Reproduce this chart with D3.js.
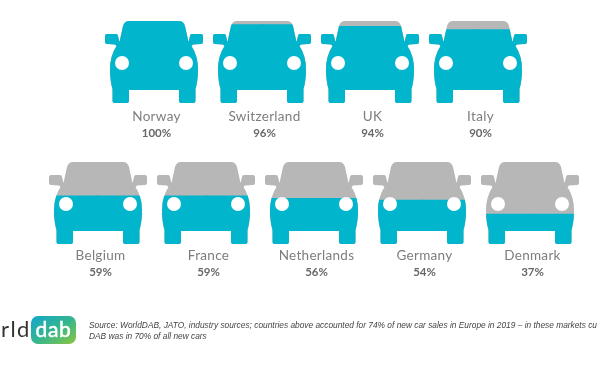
<!DOCTYPE html>
<html>
<head>
<meta charset="utf-8">
<script src="https://cdn.jsdelivr.net/npm/d3@7"></script>
<style>
html, body { margin: 0; padding: 0; background: #fff; overflow: hidden; }
svg { display: block; filter: blur(0.35px); }
</style>
</head>
<body>
<svg></svg>
<script>
// The data
const topCountries = ["Norway", "Switzerland", "UK", "Italy"];
const topValues = [100, 96, 94, 90];
const bottomCountries = ["Belgium", "France", "Netherlands", "Germany", "Denmark"];
const bottomValues = [59, 59, 56, 54, 37];
const sourceLines = [
    "Source: WorldDAB, JATO, industry sources; countries above accounted for 74% of new car sales in Europe in 2019 \u2013 in these markets cu",
    "DAB was in 70% of all new cars"
];

const width = 600;
const height = 372;
const carHeight = 82;

const svg = d3.select("svg").attr("width", width).attr("height", height);
const defs = svg.append("defs");

// one scale per row, value -> level of the fill inside the car
const xTop = d3.scalePoint().domain(topCountries).range([154, 478]);
const xBottom = d3.scalePoint().domain(bottomCountries).range([98, 530]);
const level = d3.scaleLinear().domain([0, 100]).range([carHeight, 0]);

// car icon: right half only, x = 0 is the middle and y = 0 the roof. The left half is the same path flipped
const halfCar = "M-1,0 L25,0 Q29.5,0 31,5 L34.5,21 L36,15 Q36,13 38,13 L47,13 Q49,13 49,15 L49,21 Q49,23 47,23 "
    + "L39,23.5 L37.5,25 Q44,35 44,48 Q44,60 41.5,68 L41.5,80 Q41.5,82 39.5,82 L27,82 Q25,82 25,80 L25,69 L-1,69 Z";
const lights = [-32, 32];

function drawRow(names, values, x, top, nameY, valueY) {
    const rows = names.map((name, i) => ({ name, value: values[i], id: "fill-" + i + "-" + top }));

    defs.selectAll(null)
        .data(rows)
        .join("clipPath")
            .attr("id", d => d.id)
        .append("rect")
            .attr("x", -60)
            .attr("y", d => level(d.value))
            .attr("width", 120)
            .attr("height", d => carHeight - level(d.value));

    const car = svg.append("g")
        .selectAll("g")
        .data(rows)
        .join("g")
            .attr("transform", d => `translate(${x(d.name)},${top})`);

    [1, -1].forEach(flip => {
        car.append("path").attr("d", halfCar).attr("fill", "#b7b7b7")
            .attr("transform", `scale(${flip},1)`);
    });
    const filled = car.append("g").attr("clip-path", d => `url(#${d.id})`);
    [1, -1].forEach(flip => {
        filled.append("path").attr("d", halfCar).attr("fill", "#00b5cc")
            .attr("transform", `scale(${flip},1)`);
    });

    car.selectAll("circle")
        .data(lights)
        .join("circle")
            .attr("cx", d => d)
            .attr("cy", 42)
            .attr("r", 7)
            .attr("fill", "#fff");

    // labels sit a little right of the car's middle in the original
    car.append("text")
        .attr("x", 2.5)
        .attr("y", nameY)
        .attr("text-anchor", "middle")
        .attr("font-family", "Lato")
        .attr("font-size", 13.5)
        .attr("letter-spacing", 0.3)
        .attr("fill", "#7d7d7d")
        .text(d => d.name);

    car.append("text")
        .attr("x", 2.5)
        .attr("y", valueY)
        .attr("text-anchor", "middle")
        .attr("font-family", "Lato")
        .attr("font-weight", 700)
        .attr("font-size", 11.5)
        .attr("fill", "#686868")
        .text(d => d.value + "%");
}

drawRow(topCountries, topValues, xTop, 21, 100, 116);
drawRow(bottomCountries, bottomValues, xBottom, 162, 98, 114);

// logo, the word runs up to the left edge as in the picture
const grad = defs.append("linearGradient").attr("id", "logo")
    .attr("x1", 0).attr("y1", 0).attr("x2", 1).attr("y2", 1);
grad.append("stop").attr("offset", "0%").attr("stop-color", "#12a6cf");
grad.append("stop").attr("offset", "50%").attr("stop-color", "#33b58f");
grad.append("stop").attr("offset", "100%").attr("stop-color", "#8cc63f");

svg.append("rect")
    .attr("x", 31).attr("y", 316).attr("width", 45).attr("height", 28).attr("rx", 7)
    .attr("fill", "url(#logo)");
svg.append("text")
    .attr("x", 53.5).attr("y", 337)
    .attr("text-anchor", "middle")
    .attr("font-family", "Lato").attr("font-size", 21).attr("font-weight", 400)
    .attr("letter-spacing", 0.6)
    .attr("fill", "#fff")
    .attr("stroke", "#fff")
    .attr("stroke-width", 0.5)
    .text("dab");
svg.append("text")
    .attr("x", 1).attr("y", 337)
    .attr("font-family", "Lato").attr("font-size", 22).attr("font-weight", 400)
    .attr("letter-spacing", 1.4)
    .attr("fill", "#333")
    .text("rld");

svg.append("g")
    .selectAll("text")
    .data(sourceLines)
    .join("text")
        .attr("x", 89)
        .attr("y", (d, i) => 328 + i * 10.5)
        .attr("font-family", "Liberation Sans")
        .attr("font-style", "italic")
        .attr("font-size", 8.35)
        .attr("fill", "#444")
        .text(d => d);
</script>
</body>
</html>
